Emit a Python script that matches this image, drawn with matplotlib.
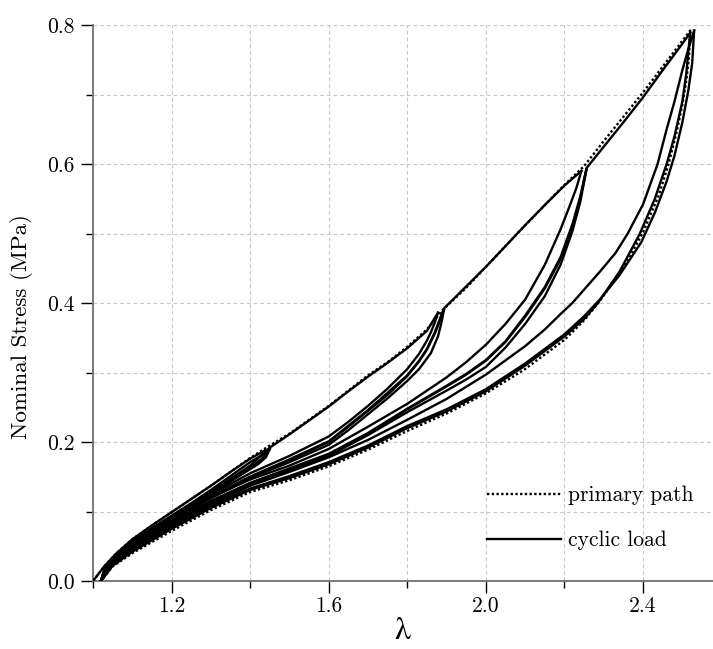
"""
Stress-stretch response under cyclic loading (Mullins-type softening)
"""

import matplotlib

matplotlib.use("Agg")
from matplotlib import pyplot as plt
from matplotlib.ticker import FixedLocator, FormatStrFormatter

plt.rcParams["font.family"] = "cmr10"
plt.rcParams["mathtext.fontset"] = "cm"
plt.rcParams["axes.formatter.use_mathtext"] = True
plt.rcParams["axes.unicode_minus"] = False

# ---- primary path (dotted): virgin loading then unloading from the largest stretch
primary_load_x = [1.00, 1.03, 1.06, 1.10, 1.15, 1.20, 1.25, 1.30, 1.35, 1.40, 1.45,
                  1.50, 1.55, 1.60, 1.65, 1.70, 1.75, 1.80, 1.85, 1.89, 1.95, 2.00,
                  2.10, 2.20, 2.25, 2.30, 2.40, 2.52]
primary_load_y = [0.000, 0.022, 0.040, 0.060, 0.080, 0.099, 0.118, 0.137, 0.157, 0.177, 0.195,
                  0.212, 0.232, 0.252, 0.274, 0.296, 0.315, 0.337, 0.362, 0.390, 0.422, 0.452,
                  0.512, 0.570, 0.597, 0.633, 0.703, 0.792]
primary_unload_x = [2.52, 2.517, 2.51, 2.50, 2.485, 2.465, 2.44, 2.40, 2.36, 2.32, 2.29, 2.25,
                    2.20, 2.10, 2.00, 1.90, 1.80, 1.70, 1.60, 1.50, 1.40, 1.30, 1.20, 1.10,
                    1.05, 1.02]
primary_unload_y = [0.792, 0.755, 0.720, 0.685, 0.645, 0.600, 0.555, 0.502, 0.460, 0.427, 0.403, 0.375,
                    0.347, 0.305, 0.270, 0.241, 0.216, 0.189, 0.165, 0.145, 0.128, 0.102, 0.072, 0.040,
                    0.021, 0.000]

# ---- cyclic load (solid), in the order it was applied
# first loading up to stretch 1.44
load0_x = [1.00, 1.03, 1.06, 1.10, 1.15, 1.20, 1.25, 1.30, 1.35, 1.40, 1.438]
load0_y = [0.000, 0.022, 0.040, 0.060, 0.080, 0.099, 0.118, 0.137, 0.157, 0.176, 0.188]

# level 1 (peak ~1.45)
unload1a_x = [1.438, 1.43, 1.40, 1.35, 1.30, 1.25, 1.20, 1.15, 1.10, 1.06, 1.03, 1.02]
unload1a_y = [0.188, 0.181, 0.171, 0.151, 0.131, 0.112, 0.094, 0.076, 0.057, 0.038, 0.018, 0.000]
reload1a_x = [1.02, 1.03, 1.06, 1.10, 1.15, 1.20, 1.25, 1.30, 1.35, 1.40, 1.43, 1.45]
reload1a_y = [0.000, 0.017, 0.036, 0.055, 0.074, 0.091, 0.109, 0.126, 0.145, 0.163, 0.176, 0.190]
unload1b_x = [1.45, 1.44, 1.42, 1.40, 1.35, 1.30, 1.25, 1.20, 1.15, 1.10, 1.06, 1.03, 1.02]
unload1b_y = [0.190, 0.178, 0.168, 0.161, 0.143, 0.124, 0.107, 0.089, 0.072, 0.053, 0.035, 0.016, 0.000]
reload1b_x = [1.02, 1.03, 1.06, 1.10, 1.15, 1.20, 1.25, 1.30, 1.35, 1.40, 1.45, 1.50, 1.55,
              1.60, 1.65, 1.70, 1.75, 1.80, 1.85, 1.878]
reload1b_y = [0.000, 0.018, 0.037, 0.056, 0.075, 0.092, 0.110, 0.128, 0.147, 0.166, 0.192, 0.211, 0.231,
              0.251, 0.273, 0.294, 0.314, 0.335, 0.360, 0.386]

# level 2 (peak ~1.89)
unload2a_x = [1.878, 1.87, 1.86, 1.85, 1.83, 1.80, 1.75, 1.70, 1.65, 1.60, 1.50, 1.40, 1.30,
              1.20, 1.10, 1.05, 1.02]
unload2a_y = [0.386, 0.372, 0.358, 0.346, 0.327, 0.305, 0.277, 0.252, 0.229, 0.208, 0.180, 0.155, 0.124,
              0.090, 0.054, 0.030, 0.000]
reload2a_x = [1.02, 1.05, 1.10, 1.20, 1.30, 1.40, 1.50, 1.60, 1.65, 1.70, 1.75, 1.80, 1.83, 1.85,
              1.87, 1.88, 1.893]
reload2a_y = [0.000, 0.028, 0.052, 0.088, 0.121, 0.150, 0.174, 0.200, 0.222, 0.245, 0.268, 0.295, 0.316, 0.333,
              0.356, 0.370, 0.390]
unload2b_x = [1.893, 1.887, 1.878, 1.86, 1.83, 1.80, 1.75, 1.70, 1.65, 1.60, 1.50, 1.40, 1.30,
              1.20, 1.10, 1.05, 1.02]
unload2b_y = [0.390, 0.372, 0.352, 0.328, 0.305, 0.288, 0.263, 0.240, 0.217, 0.196, 0.171, 0.148, 0.119,
              0.087, 0.051, 0.027, 0.000]
reload2b_x = [1.02, 1.05, 1.10, 1.20, 1.30, 1.40, 1.50, 1.60, 1.70, 1.80, 1.83, 1.85, 1.87, 1.893,
              1.95, 2.00, 2.05, 2.10, 2.15, 2.20, 2.243]
reload2b_y = [0.000, 0.028, 0.052, 0.088, 0.121, 0.150, 0.175, 0.201, 0.246, 0.296, 0.317, 0.334, 0.358, 0.392,
              0.424, 0.452, 0.482, 0.512, 0.541, 0.569, 0.590]

# level 3 (peak ~2.25)
unload3a_x = [2.243, 2.23, 2.21, 2.19, 2.15, 2.10, 2.05, 2.00, 1.95, 1.90, 1.80, 1.70, 1.60, 1.50,
              1.40, 1.30, 1.20, 1.10, 1.05, 1.02]
unload3a_y = [0.590, 0.565, 0.535, 0.506, 0.455, 0.405, 0.370, 0.340, 0.315, 0.293, 0.255, 0.222, 0.190, 0.166,
              0.146, 0.120, 0.086, 0.050, 0.027, 0.000]
reload3a_x = [1.02, 1.05, 1.10, 1.20, 1.30, 1.40, 1.50, 1.60, 1.70, 1.80, 1.90, 1.95, 2.00, 2.05,
              2.10, 2.15, 2.19, 2.22, 2.24, 2.256]
reload3a_y = [0.000, 0.026, 0.049, 0.084, 0.115, 0.141, 0.161, 0.182, 0.212, 0.247, 0.280, 0.297, 0.317, 0.344,
              0.380, 0.421, 0.463, 0.510, 0.550, 0.592]
unload3b_x = [2.256, 2.24, 2.22, 2.19, 2.15, 2.10, 2.05, 2.00, 1.95, 1.90, 1.80, 1.70, 1.60, 1.50,
              1.40, 1.30, 1.20, 1.10, 1.05, 1.02]
unload3b_y = [0.592, 0.545, 0.503, 0.455, 0.410, 0.370, 0.336, 0.308, 0.290, 0.274, 0.243, 0.210, 0.180, 0.159,
              0.139, 0.113, 0.083, 0.048, 0.025, 0.000]
reload3b_x = [1.02, 1.05, 1.10, 1.20, 1.30, 1.40, 1.50, 1.60, 1.70, 1.80, 1.90, 1.95, 2.00, 2.05,
              2.10, 2.15, 2.19, 2.22, 2.24, 2.256, 2.30, 2.35, 2.40, 2.45, 2.50, 2.52]
reload3b_y = [0.000, 0.026, 0.049, 0.084, 0.115, 0.141, 0.162, 0.183, 0.213, 0.248, 0.281, 0.298, 0.318, 0.345,
              0.382, 0.423, 0.466, 0.513, 0.553, 0.594, 0.625, 0.660, 0.696, 0.735, 0.773, 0.789]

# level 4 (peak ~2.53)
unload4a_x = [2.52, 2.515, 2.51, 2.50, 2.48, 2.46, 2.43, 2.392, 2.34, 2.285, 2.25, 2.20, 2.10, 2.00,
              1.90, 1.80, 1.70, 1.60, 1.50, 1.40, 1.30, 1.20, 1.10, 1.05, 1.02]
unload4a_y = [0.789, 0.760, 0.730, 0.690, 0.640, 0.600, 0.550, 0.500, 0.445, 0.400, 0.377, 0.352, 0.310, 0.273,
              0.244, 0.220, 0.192, 0.168, 0.148, 0.131, 0.105, 0.075, 0.042, 0.022, 0.000]
reload4a_x = [1.02, 1.05, 1.10, 1.20, 1.30, 1.40, 1.50, 1.60, 1.70, 1.80, 1.90, 2.00, 2.10, 2.15,
              2.188, 2.22, 2.29, 2.33, 2.361, 2.40, 2.437, 2.46, 2.48, 2.50, 2.515, 2.53]
reload4a_y = [0.000, 0.024, 0.046, 0.080, 0.110, 0.137, 0.157, 0.178, 0.203, 0.232, 0.262, 0.297, 0.338, 0.362,
              0.383, 0.400, 0.445, 0.472, 0.500, 0.542, 0.600, 0.650, 0.690, 0.735, 0.765, 0.792]
unload4b_x = [2.53, 2.525, 2.515, 2.50, 2.48, 2.46, 2.43, 2.395, 2.34, 2.29, 2.25, 2.20, 2.10, 2.00,
              1.90, 1.80, 1.70, 1.60, 1.50, 1.40, 1.30, 1.20, 1.10, 1.05, 1.02]
unload4b_y = [0.792, 0.745, 0.705, 0.660, 0.612, 0.575, 0.530, 0.487, 0.440, 0.405, 0.381, 0.355, 0.313, 0.276,
              0.247, 0.223, 0.195, 0.171, 0.151, 0.133, 0.108, 0.078, 0.044, 0.023, 0.000]

cyclic_x = [load0_x, unload1a_x, reload1a_x, unload1b_x, reload1b_x,
            unload2a_x, reload2a_x, unload2b_x, reload2b_x,
            unload3a_x, reload3a_x, unload3b_x, reload3b_x,
            unload4a_x, reload4a_x, unload4b_x]
cyclic_y = [load0_y, unload1a_y, reload1a_y, unload1b_y, reload1b_y,
            unload2a_y, reload2a_y, unload2b_y, reload2b_y,
            unload3a_y, reload3a_y, unload3b_y, reload3b_y,
            unload4a_y, reload4a_y, unload4b_y]

x_major = [1.2, 1.6, 2.0, 2.4]
x_minor = [1.0, 1.4, 1.8, 2.2]
y_major = [0.0, 0.2, 0.4, 0.6, 0.8]
y_minor = [0.1, 0.3, 0.5, 0.7]


def main():
    """
    Draws the figure and saves it to out.png
    """
    fig = plt.figure(figsize=(7.13, 6.49), dpi=100)
    ax = fig.add_axes([93 / 713, 68 / 649, 620 / 713, 556 / 649])

    # grid first, so the curves sit on top
    ax.set_axisbelow(True)
    ax.grid(True, which="both", color="#c8c8c8", linestyle=(0, (3.5, 2.5)), linewidth=0.8)

    # solid cyclic load curves
    for i, (xs, ys) in enumerate(zip(cyclic_x, cyclic_y)):
        ax.plot(xs, ys, color="black", linewidth=1.7, solid_joinstyle="round",
                label="cyclic load" if i == 0 else None, zorder=3)

    # dotted primary path on top
    ax.plot(primary_load_x + primary_unload_x, primary_load_y + primary_unload_y,
            color="black", linewidth=1.7, linestyle=(0, (1, 1)), label="primary path", zorder=4)

    ax.set_xlim(1.0, 2.578)
    ax.set_ylim(0.0, 0.8)

    ax.xaxis.set_major_locator(FixedLocator(x_major))
    ax.xaxis.set_minor_locator(FixedLocator(x_minor))
    ax.yaxis.set_major_locator(FixedLocator(y_major))
    ax.yaxis.set_minor_locator(FixedLocator(y_minor))
    ax.xaxis.set_major_formatter(FormatStrFormatter("%.1f"))
    ax.yaxis.set_major_formatter(FormatStrFormatter("%.1f"))

    ax.tick_params(which="major", direction="out", length=8.5, width=1.0, labelsize=15.5)
    ax.tick_params(which="minor", direction="out", length=5, width=1.0)
    ax.tick_params(axis="x", which="major", pad=3)
    ax.tick_params(axis="y", which="major", pad=5)

    for side in ("top", "right"):
        ax.spines[side].set_visible(False)
    for side in ("left", "bottom"):
        ax.spines[side].set_color("#707070")
        ax.spines[side].set_linewidth(1.3)

    ax.set_xlabel("λ", fontsize=23, family="STIXGeneral", labelpad=0)
    ax.set_ylabel("Nominal Stress (MPa)", fontsize=16.6)
    ax.yaxis.set_label_coords(-0.097, 0.457)

    handles, labels = ax.get_legend_handles_labels()
    order = [labels.index("primary path"), labels.index("cyclic load")]
    ax.legend([handles[i] for i in order], [labels[i] for i in order],
              loc="center left", bbox_to_anchor=(468 / 713, (649 - 518) / 649),
              bbox_transform=fig.transFigure, frameon=False, fontsize=15.5,
              handlelength=3.4, handletextpad=0.35, labelspacing=1.2)

    fig.savefig("out.png", dpi=100)


if __name__ == "__main__":
    main()
